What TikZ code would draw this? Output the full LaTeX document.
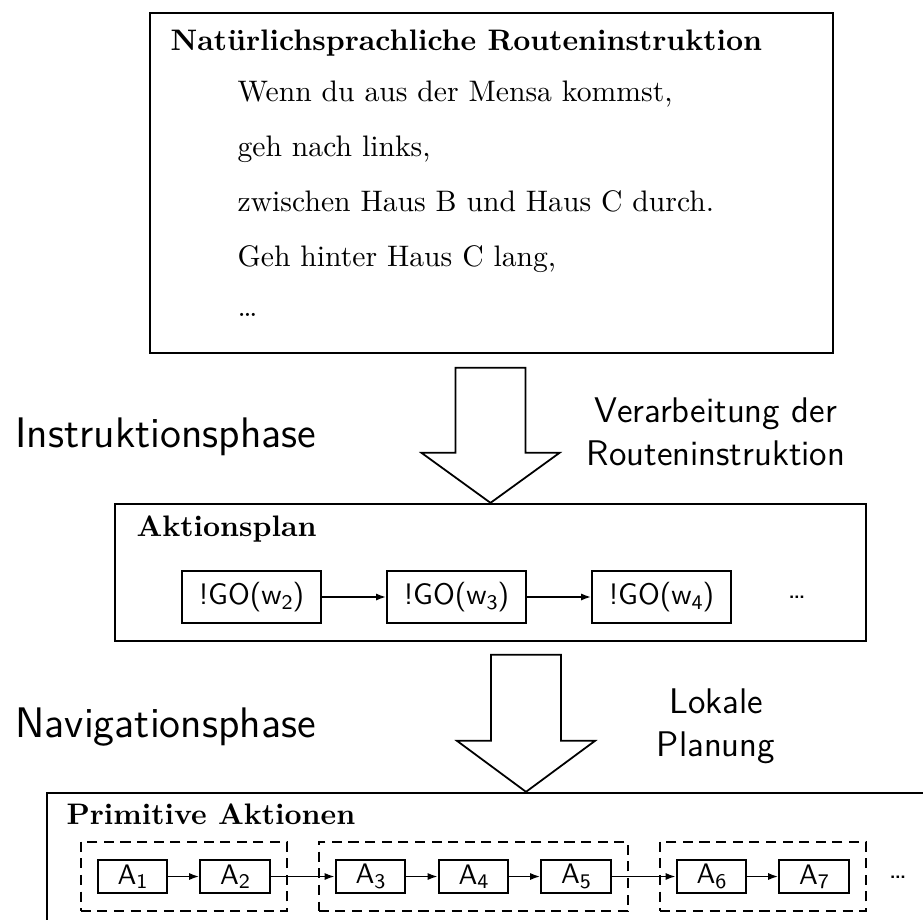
\documentclass[tikz,border=0pt]{standalone}
\usepackage{fontspec}
\usetikzlibrary{arrows.meta,fit,calc}
\newcommand{\lowsub}[1]{\raisebox{-0.35ex}{\fontsize{7}{8}\selectfont #1}}
\begin{document}
\begin{tikzpicture}[x=0.337pt,y=-0.337pt,
  frame/.style={draw,line width=0.75pt,inner sep=0pt},
  opbox/.style={draw,line width=0.6pt,minimum width=46.8pt,minimum height=17.5pt,
    inner sep=0pt,font=\sffamily},
  actbox/.style={draw,line width=0.6pt,minimum width=23.5pt,minimum height=11.1pt,
    inner sep=0pt,font=\sffamily\fontsize{9.5}{11}\selectfont},
  group/.style={draw,dash pattern=on 3.4pt off 2.2pt,line width=0.6pt,
    inner xsep=5.4pt,inner ysep=5.9pt},
  link/.style={line width=0.6pt,-{Latex[length=3.4pt,width=2.4pt]}},
  bigarrow/.style={draw,line width=0.6pt,line join=miter},
  heading/.style={anchor=base west,inner sep=0pt,font=\bfseries},
  line/.style={anchor=base west,inner sep=0pt},
  phase/.style={anchor=base west,inner sep=0pt,font=\sffamily\Large},
  process/.style={align=center,inner sep=0pt,font=\sffamily\fontsize{12}{14.2}\selectfont}
]
\useasboundingbox (0,0) rectangle (923,919);
\clip (0,0) rectangle (923,919);

% --- natural language route instruction
\node[frame,minimum width=230.2pt,minimum height=114.6pt] (instr) at (491.5,183) {};
\node[heading] (instrtitle) at (170,51) {Natürlichsprachliche Routeninstruktion};
\node[line] (l1) at (237,101) {Wenn du aus der Mensa kommst,};
\node[line] (l2) at (237,156) {geh nach links,};
\node[line] (l3) at (237,211) {zwischen Haus B und Haus C durch.};
\node[line] (l4) at (237,266) {Geh hinter Haus C lang,};
\node[line] (l5) at (237,316) {\dots};

% --- action plan
\node[frame,minimum width=253.1pt,minimum height=46.2pt] (plan) at (490.5,572.5) {};
\node[heading] (plantitle) at (136,536) {Aktionsplan};
\node[opbox] (g2) at (251.5,597) {!GO(w\lowsub{2})};
\node[opbox] (g3) at (456.5,597) {!GO(w\lowsub{3})};
\node[opbox] (g4) at (661.5,597) {!GO(w\lowsub{4})};
\node[font=\sffamily] (gdots) at (797,597) {\dots};
\draw[link] (g2) -- (g3);
\draw[link] (g3) -- (g4);

% --- primitive actions
\node[frame,minimum width=321.2pt,minimum height=69.8pt] (prim) at (523.5,896.5) {};
\node[heading] (primtitle) at (66,824) {Primitive Aktionen};
\node[actbox] (a1) at (132.5,876.5) {A\lowsub{1}};
\node[actbox] (a2) at (235,876.5) {A\lowsub{2}};
\node[actbox] (a3) at (370.5,876.5) {A\lowsub{3}};
\node[actbox] (a4) at (473.5,876.5) {A\lowsub{4}};
\node[actbox] (a5) at (576,876.5) {A\lowsub{5}};
\node[actbox] (a6) at (711.5,876.5) {A\lowsub{6}};
\node[actbox] (a7) at (814,876.5) {A\lowsub{7}};
\node[group,fit=(a1)(a2)] (grp1) {};
\node[group,fit=(a3)(a5)] (grp2) {};
\node[group,fit=(a6)(a7)] (grp3) {};
\node[font=\sffamily] (adots) at (898,877) {\dots};
\draw[link] (a1) -- (a2);
\draw[link] (a2) -- (a3);
\draw[link] (a3) -- (a4);
\draw[link] (a4) -- (a5);
\draw[link] (a5) -- (a6);
\draw[link] (a6) -- (a7);

% --- hollow block arrows between the levels
\draw[bigarrow] ($(plan.north)+(-35,-135)$) -- ($(plan.north)+(35,-135)$)
  -- ($(plan.north)+(35,-50)$) -- ($(plan.north)+(69,-50)$) -- (plan.north)
  -- ($(plan.north)+(-69,-50)$) -- ($(plan.north)+(-35,-50)$) -- cycle;
\draw[bigarrow] ($(prim.north)+(-32.5,-137)$) -- ($(prim.north)+(37.5,-137)$)
  -- ($(prim.north)+(37.5,-51)$) -- ($(prim.north)+(71.5,-51)$) -- ($(prim.north)+(2.5,0)$)
  -- ($(prim.north)+(-66.5,-51)$) -- ($(prim.north)+(-32.5,-51)$) -- cycle;

% --- phase and step labels
\node[phase] (ph1) at (15,447) {Instruktionsphase};
\node[phase] (ph2) at (15,737) {Navigationsphase};
\node[process,anchor=base] (p1) at (716,465) {Verarbeitung der\\Routeninstruktion};
\node[process,anchor=base] (p2) at (716,756) {Lokale\\Planung};
\end{tikzpicture}
\end{document}
